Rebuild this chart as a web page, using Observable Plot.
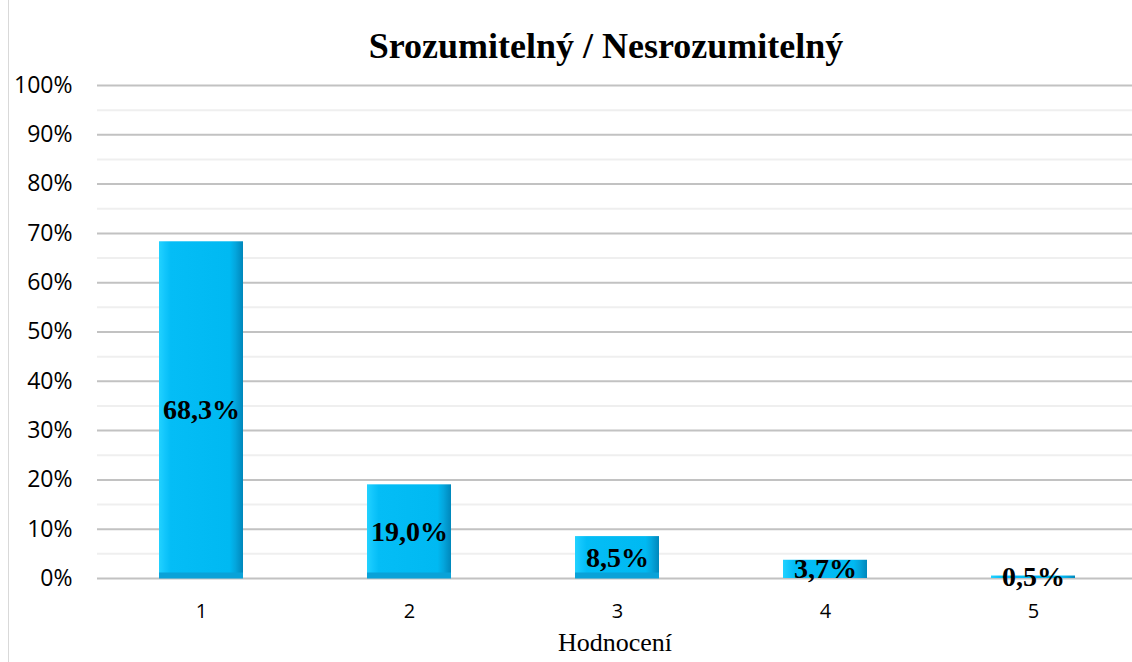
<!DOCTYPE html>
<html>
<head>
<meta charset="utf-8">
<script src="https://cdn.jsdelivr.net/npm/d3@7"></script>
<script src="https://cdn.jsdelivr.net/npm/@observablehq/plot@0.6"></script>
<style>
  html, body { margin: 0; padding: 0; background: #fff; }
  #wrap { position: relative; width: 1132px; height: 662px; overflow: hidden; }
  #border { position: absolute; left: 8px; top: 0; width: 1px; height: 662px; background: #d9d9d9; }
  #title { position: absolute; left: 0; top: 0; height: 70px; width: 1212px; text-align: center;
    font-family: "Liberation Serif", "Times New Roman", serif; font-weight: bold; font-size: 36px;
    line-height: 40px; padding-top: 26px; box-sizing: border-box; color: #000; z-index: 2; }
  #chart { position: absolute; left: 0; top: 0; }
  svg { display: block; }
</style>
</head>
<body>
<div id="wrap">
  <div id="border"></div>
  <div id="chart"></div>
  <div id="title">Srozumitelný / Nesrozumitelný</div>
</div>
<script>
const categories = ["1", "2", "3", "4", "5"];
const values = [68.3, 19.0, 8.5, 3.7, 0.5];
const valueLabels = ["68,3%", "19,0%", "8,5%", "3,7%", "0,5%"];
const yTicks = [0, 10, 20, 30, 40, 50, 60, 70, 80, 90, 100];
const yMinorTicks = [5, 15, 25, 35, 45, 55, 65, 75, 85, 95];
const xAxisTitle = "Hodnocení";

const data = categories.map((c, i) => ({cat: c, value: values[i], label: valueLabels[i]}));
const taller = data.filter(d => d.value > 5);
const small = data.filter(d => d.value > 3 && d.value <= 5);

const defs = () => {
  const ns = "http://www.w3.org/2000/svg";
  const d = document.createElementNS(ns, "defs");
  d.innerHTML = `
    <linearGradient id="barGrad" x1="0" x2="1" y1="0" y2="0">
      <stop offset="0" stop-color="#22d2ff"/>
      <stop offset="0.07" stop-color="#12c6fc"/>
      <stop offset="0.14" stop-color="#04bdf6"/>
      <stop offset="0.84" stop-color="#00b9f2"/>
      <stop offset="0.91" stop-color="#04a6dd"/>
      <stop offset="1" stop-color="#0087bb"/>
    </linearGradient>
    <linearGradient id="topGrad" x1="0" x2="1" y1="0" y2="0">
      <stop offset="0" stop-color="#2fd8ff"/>
      <stop offset="0.12" stop-color="#45e6ff"/>
      <stop offset="0.88" stop-color="#45e6ff"/>
      <stop offset="1" stop-color="#1fb8e8"/>
    </linearGradient>`;
  return d;
};

const chart = Plot.plot({
  width: 1132,
  height: 662,
  marginTop: 85,
  marginBottom: 84,
  marginLeft: 97,
  marginRight: 0,
  style: {fontFamily: "'Open Sans', sans-serif", color: "#000", background: "transparent"},
  x: {type: "band", domain: categories, range: [97, 1137], paddingInner: 0.596, paddingOuter: 0.298, label: null},
  y: {domain: [0, 100], label: null},
  marks: [
    defs,
    Plot.ruleY(yMinorTicks, {stroke: "#efefef", strokeWidth: 2}),
    Plot.ruleY(yTicks, {stroke: "#c2c2c2", strokeWidth: 2}),
    Plot.axisY({ticks: yTicks, tickSize: 0, tickPadding: 25, tickFormat: d => d + "%", fontSize: 23, label: null, fill: "#000"}),
    Plot.axisX({tickSize: 0, tickPadding: 25, fontSize: 20, label: null, fill: "#000"}),
    Plot.barY(data, {x: "cat", y: "value", fill: "url(#barGrad)"}),
    Plot.tickY(taller, {x: "cat", y: "value", stroke: "url(#topGrad)", strokeWidth: 7, dy: 3.5}),
    Plot.tickY(small, {x: "cat", y: "value", stroke: "url(#topGrad)", strokeWidth: 4, dy: 2}),
    Plot.tickY(taller, {x: "cat", y: 0, stroke: "#0aa2d8", strokeWidth: 6, dy: -3}),
    Plot.text(data, {x: "cat", y: d => d.value / 2, text: "label", fontFamily: "'Liberation Serif', 'Times New Roman', serif",
      fontWeight: "bold", fontSize: 28, fill: "#000"}),
    Plot.text([xAxisTitle], {text: d => d, frameAnchor: "bottom", dy: 72, fontFamily: "'Liberation Serif', 'Times New Roman', serif",
      fontSize: 26, fill: "#000"})
  ]
});
document.getElementById("chart").appendChild(chart);
</script>
</body>
</html>
